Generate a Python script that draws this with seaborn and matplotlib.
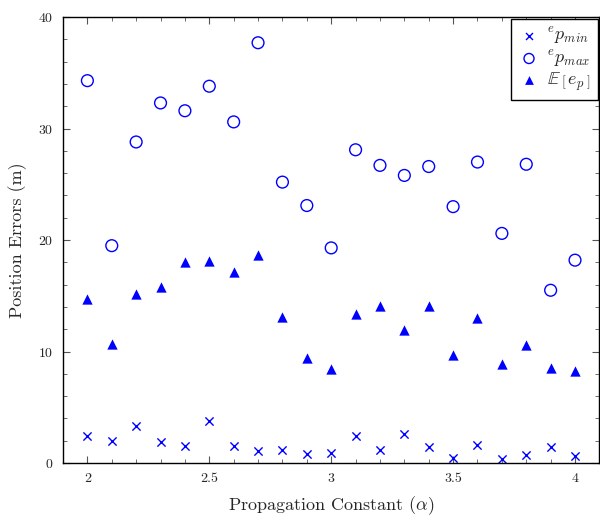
import numpy as np
import pandas as pd
import seaborn as sns
import matplotlib
matplotlib.use("Agg")
import matplotlib.pyplot as plt
from matplotlib.ticker import MultipleLocator, FixedLocator

alpha = [2.0, 2.1, 2.2, 2.3, 2.4, 2.5, 2.6, 2.7, 2.8, 2.9, 3.0,
         3.1, 3.2, 3.3, 3.4, 3.5, 3.6, 3.7, 3.8, 3.9, 4.0]
e_min = [2.4, 2.0, 3.3, 1.9, 1.5, 3.8, 1.5, 1.1, 1.2, 0.8, 0.9,
         2.4, 1.2, 2.6, 1.4, 0.45, 1.6, 0.35, 0.7, 1.4, 0.6]
e_max = [34.3, 19.5, 28.8, 32.3, 31.6, 33.8, 30.6, 37.7, 25.2, 23.1, 19.3,
         28.1, 26.7, 25.8, 26.6, 23.0, 27.0, 20.6, 26.8, 15.5, 18.2]
e_mean = [14.7, 10.7, 15.2, 15.8, 18.0, 18.1, 17.1, 18.7, 13.1, 9.4, 8.4,
          13.4, 14.1, 11.9, 14.1, 9.7, 13.0, 8.9, 10.6, 8.5, 8.3]
labels = [r"${}^{e}p_{min}$", r"${}^{e}p_{max}$",
          r"$\mathbb{E}\,\left[\,e_p\,\right]$"]
x_ticks = [2, 2.5, 3, 3.5, 4]
x_tick_labels = ["2", "2.5", "3", "3.5", "4"]
y_ticks = [0, 10, 20, 30, 40]

sns.set_style("ticks")
plt.rcParams["font.family"] = ["cmr10", "DejaVu Serif"]
plt.rcParams["mathtext.fontset"] = "cm"
plt.rcParams["axes.formatter.use_mathtext"] = True

fig = plt.figure(figsize=(6.0, 5.18), dpi=100)
ax = fig.add_axes([0.105, 0.106, 0.894, 0.861])

df = pd.DataFrame({"alpha": alpha, "min": e_min, "max": e_max, "mean": e_mean})
blue = "#0000ff"
sns.scatterplot(data=df, x="alpha", y="min", marker="x", color=blue, s=35,
                linewidth=1.0, ax=ax, label=labels[0])
sns.scatterplot(data=df, x="alpha", y="max", marker="o", facecolors="none",
                edgecolor=blue, s=72, linewidth=1.0, ax=ax, label=labels[1])
sns.scatterplot(data=df, x="alpha", y="mean", marker="^", color=blue, s=55,
                linewidth=0, ax=ax, label=labels[2])

ax.set_xlim(1.9, 4.1)
ax.set_ylim(0, 40)
ax.xaxis.set_major_locator(FixedLocator(x_ticks))
ax.set_xticklabels(x_tick_labels)
ax.xaxis.set_minor_locator(MultipleLocator(0.1))
ax.yaxis.set_major_locator(FixedLocator(y_ticks))
ax.yaxis.set_minor_locator(MultipleLocator(2))
ax.tick_params(which="both", direction="in", top=True, right=True,
               color="#555555", labelsize=10, pad=7)
ax.tick_params(which="major", length=5, width=0.8)
ax.tick_params(which="minor", length=3, width=0.6)
for s in ax.spines.values():
    s.set_linewidth(1.0)
    s.set_color("black")

ax.set_xlabel(r"Propagation Constant ($\alpha$)", fontsize=13, labelpad=7)
ax.set_ylabel("Position Errors (m)", fontsize=13, labelpad=8)

leg = ax.legend(loc="upper right", fontsize=13, frameon=True, fancybox=False,
                edgecolor="black", borderaxespad=0.1, handletextpad=0.4,
                handlelength=1.2, borderpad=0.4, labelspacing=0.05,
                markerscale=0.85)
leg.get_frame().set_linewidth(1.0)
leg.get_frame().set_alpha(1)

fig.savefig("out.png", dpi=100)
